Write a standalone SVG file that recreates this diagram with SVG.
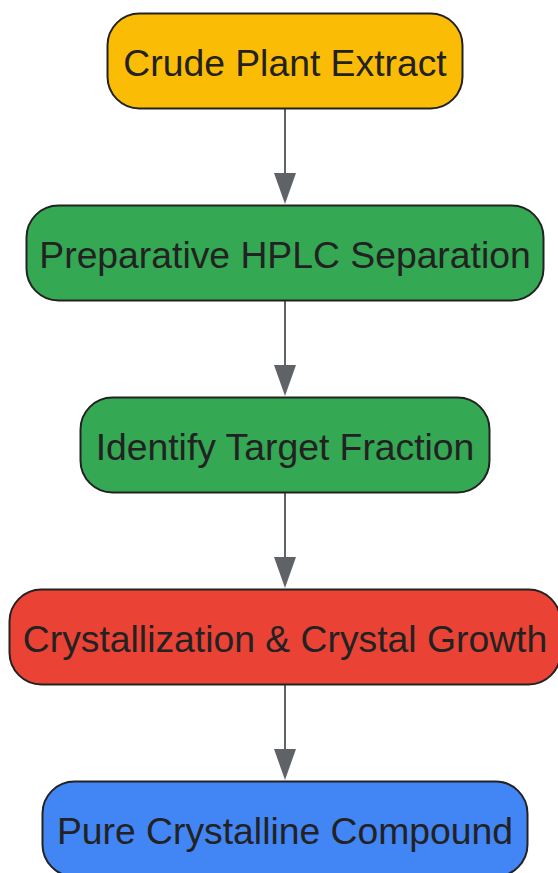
<svg xmlns="http://www.w3.org/2000/svg" width="558" height="873" viewBox="0 0 558 873">
<defs>
<style>
.n rect{stroke:#222222;stroke-width:2}
.n text{font-family:"Liberation Sans",Arial,sans-serif;font-size:37.3px;fill:#222222;text-anchor:middle}
.e line{stroke:#5f6368;stroke-width:2}
.e polygon{fill:#5f6368}
</style>
</defs>
<rect width="558" height="873" fill="#ffffff"/>
<g class="e" id="connectors">
<line x1="285" y1="109" x2="285" y2="176"/><polygon points="274,173 296,173 285,204"/>
<line x1="285" y1="301" x2="285" y2="368"/><polygon points="274,365 296,365 285,396"/>
<line x1="285" y1="493" x2="285" y2="560"/><polygon points="274,557 296,557 285,588"/>
<line x1="285" y1="685" x2="285" y2="752"/><polygon points="274,749 296,749 285,780"/>
</g>
<g class="n" id="node1"><rect x="107.5" y="13.5" width="355" height="95" rx="32" fill="#FBBC05"/><text x="285" y="76">Crude Plant Extract</text></g>
<g class="n" id="node2"><rect x="26.5" y="205.5" width="517" height="95" rx="32" fill="#34A853"/><text x="285" y="268">Preparative HPLC Separation</text></g>
<g class="n" id="node3"><rect x="80.5" y="397.5" width="409" height="95" rx="32" fill="#34A853"/><text x="285" y="460">Identify Target Fraction</text></g>
<g class="n" id="node4"><rect x="9.5" y="589.5" width="551" height="95" rx="32" fill="#EA4335"/><text x="285" y="652">Crystallization &amp; Crystal Growth</text></g>
<g class="n" id="node5"><rect x="42.5" y="781.5" width="485" height="95" rx="32" fill="#4285F4"/><text x="285" y="844">Pure Crystalline Compound</text></g>
</svg>
